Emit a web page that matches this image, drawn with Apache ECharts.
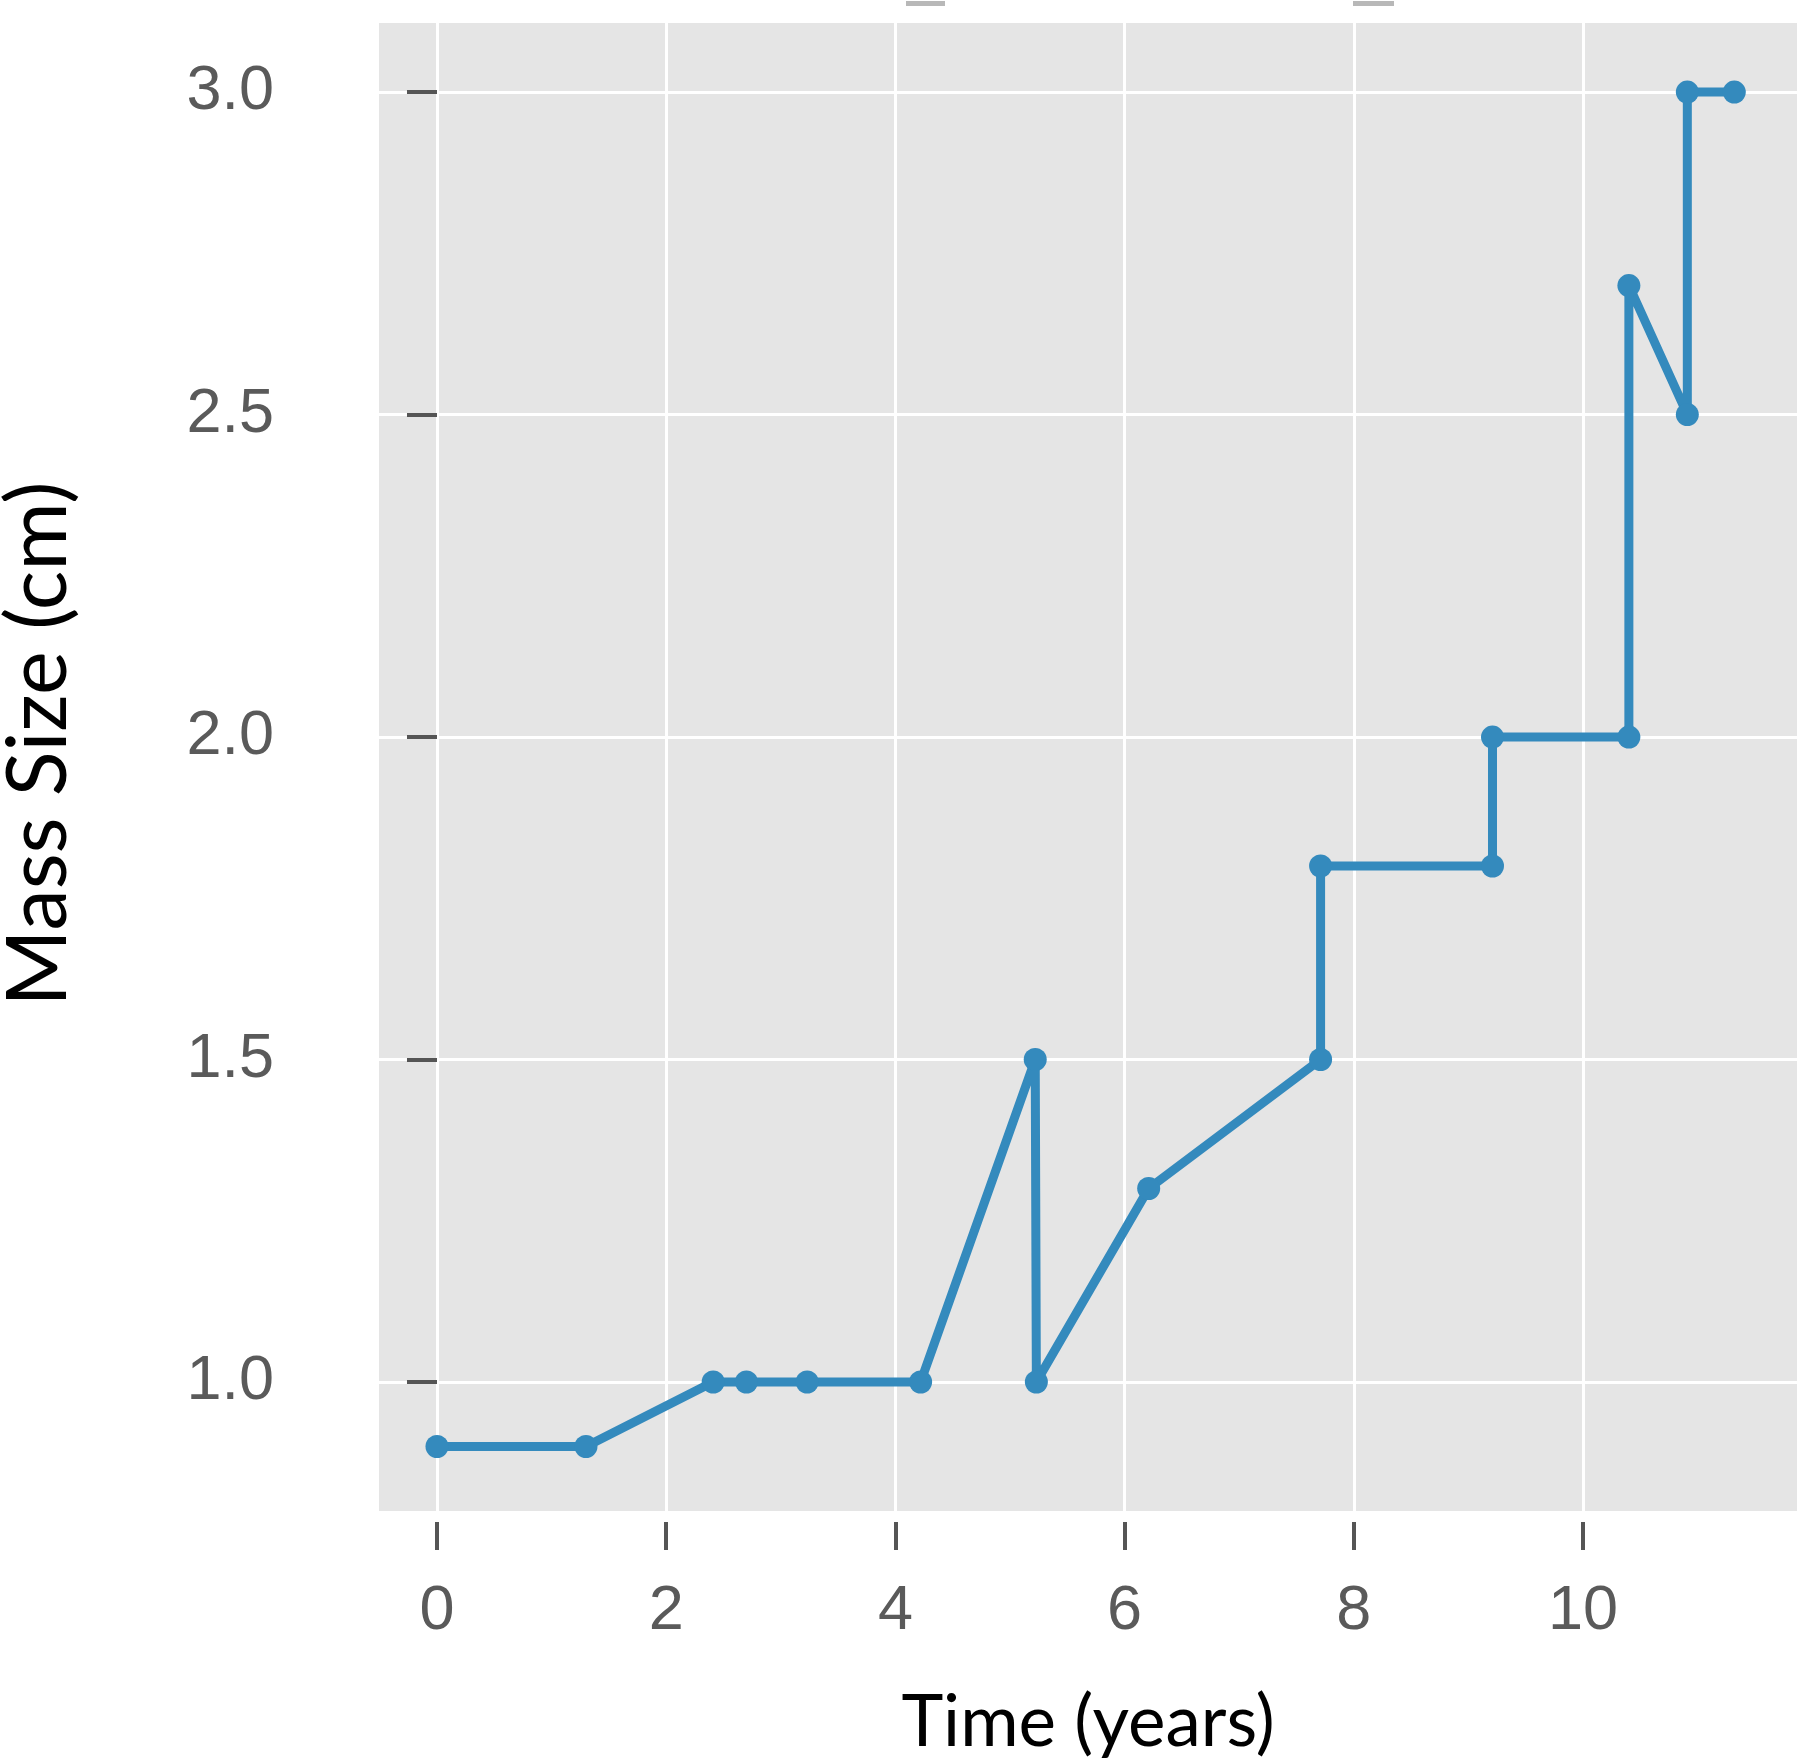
<!DOCTYPE html>
<html>
<head>
<meta charset="utf-8">
<script src="https://cdn.jsdelivr.net/npm/echarts@6/dist/echarts.min.js"></script>
<style>
html,body{margin:0;padding:0;background:#fff;}
#chart{width:1800px;height:1762px;}
</style>
</head>
<body>
<div id="chart"></div>
<script>
// Data
const timeYears = [0, 1.30, 2.41, 2.70, 3.23, 4.22, 5.22, 5.23, 6.21, 7.71, 7.71, 9.21, 9.21, 10.40, 10.40, 10.91, 10.91, 11.32];
const massSize  = [0.9, 0.9, 1.0, 1.0, 1.0, 1.0, 1.5, 1.0, 1.3, 1.5, 1.8, 1.8, 2.0, 2.0, 2.7, 2.5, 3.0, 3.0];
const xTicks = [0, 2, 4, 6, 8, 10];
const yTicks = [1.0, 1.5, 2.0, 2.5, 3.0];

const points = timeYears.map((t, i) => [t, massSize[i]]);

const chart = echarts.init(document.getElementById('chart'), null, {renderer: 'canvas'});
const tickFont = '"Liberation Sans", Arial, sans-serif';
const titleFont = 'Lato, "Open Sans", sans-serif';

chart.setOption({
  animation: false,
  backgroundColor: '#ffffff',
  grid: {
    left: 379, right: 3, top: 23, bottom: 251,
    outerBoundsMode: 'none',
    containLabel: false,
    show: true, backgroundColor: '#e5e5e5', borderWidth: 0
  },
  xAxis: {
    type: 'value',
    min: -0.506, max: 11.867,
    offset: 11,
    axisLine: {show: false},
    axisTick: {show: true, customValues: xTicks, length: 28, inside: false,
               lineStyle: {color: '#555555', width: 4}},
    axisLabel: {customValues: xTicks, margin: 58, color: '#5a5a5a',
                fontFamily: tickFont, fontSize: 63},
    splitLine: {show: true, lineStyle: {color: '#ffffff', width: 3}},
    name: 'Time (years)',
    nameLocation: 'middle',
    nameGap: 166,
    nameTextStyle: {color: '#000000', fontFamily: titleFont, fontSize: 71}
  },
  yAxis: {
    type: 'value',
    min: 0.800, max: 3.107,
    offset: 9,
    axisLine: {show: false},
    axisTick: {show: true, customValues: yTicks, length: 30, inside: false,
               lineStyle: {color: '#555555', width: 4}},
    axisLabel: {customValues: yTicks, margin: 96, color: '#5a5a5a',
                fontFamily: tickFont, fontSize: 63,
                formatter: v => v.toFixed(1)},
    splitLine: {show: true, lineStyle: {color: '#ffffff', width: 3}},
    name: 'Mass Size (cm)',
    nameLocation: 'middle',
    nameGap: 289,
    nameRotate: 90,
    nameTextStyle: {color: '#000000', fontFamily: titleFont, fontSize: 83,
                    padding: [0, 0, 0, 46]}
  },
  graphic: [
    {type: 'rect', shape: {x: 906, y: 1, width: 39, height: 5}, style: {fill: '#b8b8b8'}},
    {type: 'rect', shape: {x: 1353, y: 1, width: 41, height: 5}, style: {fill: '#b8b8b8'}}
  ],
  series: [{
    type: 'line',
    data: points,
    symbol: 'circle',
    symbolSize: 23,
    showSymbol: true,
    lineStyle: {color: '#348abd', width: 9},
    itemStyle: {color: '#348abd'},
    clip: false
  }]
});
</script>
</body>
</html>
